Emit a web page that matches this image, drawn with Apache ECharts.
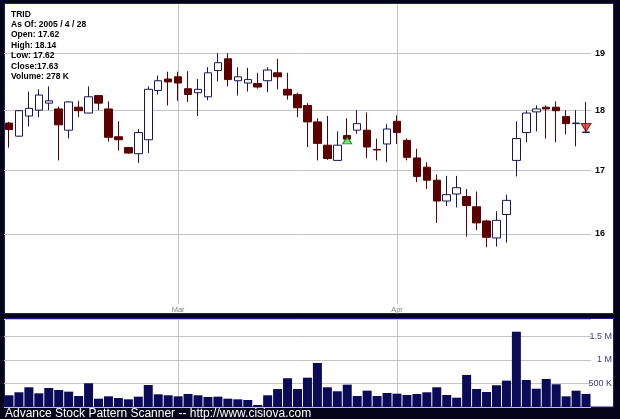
<!DOCTYPE html>
<html><head><meta charset="utf-8">
<script src="https://cdn.jsdelivr.net/npm/echarts@6/dist/echarts.min.js"></script>
<style>html,body{margin:0;padding:0;background:#05051a}#c{width:620px;height:419px}</style>
</head><body><div id="c"></div><script>
const ticker = 'TRID';
const asOf = '2005 / 4 / 28';
const dates = [
 '2005-02-03','2005-02-04','2005-02-07','2005-02-08','2005-02-09','2005-02-10','2005-02-11',
 '2005-02-14','2005-02-15','2005-02-16','2005-02-17','2005-02-18','2005-02-22','2005-02-23',
 '2005-02-24','2005-02-25','2005-02-28',
 '2005-03-01','2005-03-02','2005-03-03','2005-03-04','2005-03-07','2005-03-08','2005-03-09',
 '2005-03-10','2005-03-11','2005-03-14','2005-03-15','2005-03-16','2005-03-17','2005-03-18',
 '2005-03-21','2005-03-22','2005-03-23','2005-03-24','2005-03-28','2005-03-29','2005-03-30',
 '2005-03-31',
 '2005-04-01','2005-04-04','2005-04-05','2005-04-06','2005-04-07','2005-04-08','2005-04-11',
 '2005-04-12','2005-04-13','2005-04-14','2005-04-15','2005-04-18','2005-04-19','2005-04-20',
 '2005-04-21','2005-04-22','2005-04-25','2005-04-26','2005-04-27','2005-04-28'
];
const opens = [
 17.78,17.56,17.90,18.00,18.12,18.02,17.66,18.05,17.95,18.25,18.02,17.55,17.37,17.27,17.50,18.34,18.54,
 18.58,18.37,18.30,18.23,18.69,18.90,18.51,18.47,18.46,18.51,18.65,18.36,18.27,18.08,17.80,17.41,17.16,17.57,17.66,17.66,17.34,17.43,
 17.81,17.49,17.20,17.05,16.84,16.51,16.62,16.58,16.42,16.20,15.94,16.30,17.16,17.62,17.97,18.05,18.05,17.89,17.77,17.62
];
const highs = [
 17.80,18.00,18.32,18.36,18.41,18.06,18.15,18.16,18.41,18.26,18.15,17.81,17.38,17.68,18.41,18.60,18.67,
 18.67,18.68,18.54,18.75,19.00,19.00,18.75,18.74,18.65,18.75,18.90,18.65,18.30,18.12,17.86,17.90,17.64,17.86,18.00,17.96,17.52,17.76,
 17.91,17.52,17.35,17.13,16.93,16.91,16.91,16.70,16.66,16.22,16.35,16.61,17.81,17.99,18.08,18.08,18.15,18.00,18.00,18.14
];
const lows = [
 17.37,17.55,17.72,17.88,18.00,17.16,17.52,17.88,17.95,18.00,17.47,17.32,17.27,17.12,17.28,18.27,18.08,
 18.16,18.14,17.90,18.17,18.50,18.41,18.25,18.32,18.37,18.31,18.36,18.18,17.88,17.38,17.16,17.17,17.16,17.49,17.60,17.20,17.16,17.13,
 17.43,17.16,16.81,16.70,16.17,16.43,16.41,15.96,16.06,15.80,15.81,15.87,16.90,17.46,17.64,17.52,17.46,17.59,17.39,17.62
];
const closes = [
 17.67,17.99,18.03,18.26,18.16,17.75,18.14,17.99,18.23,18.12,17.54,17.50,17.28,17.62,18.36,18.51,18.49,
 18.47,18.27,18.36,18.65,18.83,18.53,18.58,18.53,18.40,18.70,18.58,18.26,18.04,17.80,17.44,17.19,17.41,17.51,17.77,17.38,17.33,17.68,
 17.62,17.21,16.90,16.84,16.51,16.61,16.72,16.44,16.17,15.95,16.21,16.52,17.52,17.95,18.02,18.02,17.99,17.77,17.78,17.63
];
const volumes = [
 249000,313000,419000,291000,404000,362000,326000,234000,504000,177000,227000,191000,163000,220000,468000,270000,249000,
 227000,277000,249000,213000,220000,177000,163000,149000,43000,249000,383000,611000,383000,623000,936000,419000,334000,475000,234000,347000,234000,298000,
 283000,255000,277000,313000,419000,255000,198000,681000,383000,319000,462000,560000,1600000,574000,389000,596000,483000,227000,347000,278000
];
const priceTicks = [16, 17, 18, 19];
const monthNames = ['Jan','Feb','Mar','Apr','May','Jun','Jul','Aug','Sep','Oct','Nov','Dec'];
const bullishSignal = [['2005-03-24', 17.49]];
const bearishSignal = [['2005-04-28', 17.705]];
const footer = 'Advance Stock Pattern Scanner -- http://www.cisiova.com';

const last = dates.length - 1;
const info = [
  ticker,
  'As Of: ' + asOf,
  'Open: ' + opens[last].toFixed(2),
  'High: ' + highs[last].toFixed(2),
  'Low: ' + lows[last].toFixed(2),
  'Close:' + closes[last].toFixed(2),
  'Volume: ' + Math.round(volumes[last] / 1000) + ' K'
].join('\n');

const monthStarts = [];
for (let i = 1; i < dates.length; i++) {
  if (dates[i].slice(5, 7) !== dates[i - 1].slice(5, 7)) monthStarts.push(i);
}
const gridColor = '#c4c4c4';
const font = 'Liberation Sans, Arial, sans-serif';
const monthLines = {
  silent: true, z: 1, symbol: ['none', 'none'], label: { show: false },
  lineStyle: { color: gridColor, type: 'solid', width: 1 },
  emphasis: { disabled: true },
  data: monthStarts.map(i => ({ xAxis: dates[i] }))
};

const chart = echarts.init(document.getElementById('c'), null, { renderer: 'canvas' });
chart.setOption({
  animation: false,
  backgroundColor: '#05051a',
  title: [
    { text: info, left: 11, top: 9, padding: 0,
      textStyle: { fontSize: 8.5, fontWeight: 'bold', color: '#000', lineHeight: 10.4, fontFamily: font } },
    { text: footer, left: 5, top: 407.5, padding: 0,
      textStyle: { fontSize: 12, fontWeight: 'normal', color: '#fff', fontFamily: font } }
  ],
  graphic: { elements: [
    { type: 'rect', z: -10, silent: true, shape: { x: 4.5, y: 3.5, width: 609, height: 310 },
      style: { fill: '#ffffff', stroke: '#1e1e8c', lineWidth: 1 } },
    { type: 'rect', z: -10, silent: true, shape: { x: 4.5, y: 318.5, width: 609, height: 88.5 },
      style: { fill: '#ffffff', stroke: '#1e1e8c', lineWidth: 1 } }
  ] },
  grid: [
    { left: 4, right: 29, top: 4, height: 300 },
    { left: 4, right: 29, top: 319, height: 88 }
  ],
  xAxis: [
    { type: 'category', gridIndex: 0, data: dates, boundaryGap: true,
      axisLine: { show: false }, axisTick: { show: false }, splitLine: { show: false },
      axisLabel: { interval: (i) => monthStarts.includes(i), formatter: v => monthNames[+v.slice(5, 7) - 1],
        color: '#808080', fontSize: 7.5, margin: 2, fontFamily: font } },
    { type: 'category', gridIndex: 1, data: dates, boundaryGap: true,
      axisLine: { show: false }, axisTick: { show: false }, splitLine: { show: false },
      axisLabel: { show: false } }
  ],
  yAxis: [
    { type: 'log', gridIndex: 0, position: 'right', min: 14.97, max: 19.911,
      axisLine: { show: false }, axisTick: { show: false, customValues: priceTicks },
      axisLabel: { customValues: priceTicks, formatter: v => String(v), color: '#000', fontWeight: 'bold',
        fontSize: 9, margin: 4, fontFamily: font },
      splitLine: { show: true, lineStyle: { color: gridColor, width: 1 } } },
    { type: 'value', gridIndex: 1, position: 'right', min: 0, max: 1870000, interval: 500000,
      axisLine: { show: false }, axisTick: { show: false },
      axisLabel: { showMinLabel: false, showMaxLabel: false, align: 'right', margin: 21,
        formatter: v => v >= 1000000 ? (v / 1000000) + ' M' : (v / 1000) + ' K',
        color: '#3a3a8a', fontSize: 9, fontFamily: font },
      splitLine: { show: true, lineStyle: { color: gridColor, width: 1 } } }
  ],
  series: [
    { type: 'candlestick', xAxisIndex: 0, yAxisIndex: 0, z: 3, barWidth: 8,
      data: dates.map((d, i) => [opens[i], closes[i], lows[i], highs[i]]),
      itemStyle: { color: '#ffffff', color0: '#5c0000', borderColor: '#16165c', borderColor0: '#5c0000', borderWidth: 1 },
      markLine: monthLines },
    { type: 'scatter', xAxisIndex: 0, yAxisIndex: 0, z: 5, data: bullishSignal,
      symbol: 'triangle', symbolSize: [9, 7],
      itemStyle: { color: '#55dd55', borderColor: '#006600', borderWidth: 1 } },
    { type: 'scatter', xAxisIndex: 0, yAxisIndex: 0, z: 5, data: bearishSignal,
      symbol: 'triangle', symbolRotate: 180, symbolSize: [10, 8],
      itemStyle: { color: '#e02828', borderColor: '#700000', borderWidth: 1 } },
    { type: 'bar', xAxisIndex: 1, yAxisIndex: 1, z: 3, barWidth: 9, data: volumes,
      itemStyle: { color: '#0b0b57' }, markLine: monthLines }
  ]
});
</script></body></html>
